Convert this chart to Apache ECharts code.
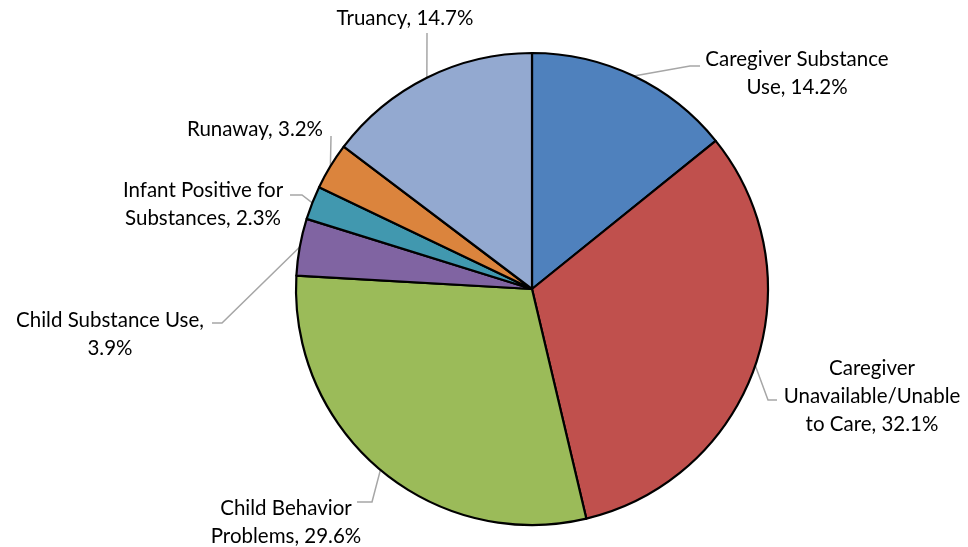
<!DOCTYPE html>
<html>
<head>
<meta charset="utf-8">
<script src="https://cdn.jsdelivr.net/npm/echarts@6/dist/echarts.min.js"></script>
<style>
html,body{margin:0;padding:0;background:#fff;}
#c{width:968px;height:547px;}
</style>
</head>
<body>
<div id="c"></div>
<script>
const categories = [
  "Caregiver Substance Use",
  "Caregiver Unavailable/Unable to Care",
  "Child Behavior Problems",
  "Child Substance Use",
  "Infant Positive for Substances",
  "Runaway",
  "Truancy"
];
const values = [14.2, 32.1, 29.6, 3.9, 2.3, 3.2, 14.7];
const labelTexts = [
  "Caregiver Substance\nUse, 14.2%",
  "Caregiver\nUnavailable/Unable\nto Care, 32.1%",
  "Child Behavior\nProblems, 29.6%",
  "Child Substance Use,\n3.9%",
  "Infant Positive for\nSubstances, 2.3%",
  "Runaway, 3.2%",
  "Truancy, 14.7%"
];
const colors = ["#4F81BD", "#C0504D", "#9BBB59", "#8064A2", "#4198AF", "#DB843D", "#93A9D0"];

// label anchor (centre of text block) and leader line bend/end points
const labelPos = [
  [797, 73], [872, 396], [286, 522], [110, 334], [203, 204], [255, 129], [405, 18]
];
const leaderBend = [
  [[690, 66], [700, 66]],
  [[768, 400], [777, 400]],
  [[372, 502], [357, 502]],
  [[222, 323], [212, 323]],
  [[302, 195], [290, 195]],
  [[331, 137], [331, 136]],
  [[427, 34], [427, 33]]
];

const chart = echarts.init(document.getElementById('c'), null, {renderer: 'canvas'});
chart.setOption({
  animation: false,
  backgroundColor: '#fff',
  series: [{
    type: 'pie',
    center: [532, 289],
    radius: 236,
    startAngle: 90,
    clockwise: true,
    data: categories.map((n, i) => ({name: n, value: values[i], itemStyle: {color: colors[i]}})),
    itemStyle: {borderColor: '#000', borderWidth: 2.2},
    label: {
      show: true,
      position: 'outside',
      formatter: p => labelTexts[p.dataIndex],
      fontFamily: 'Lato',
      fontSize: 20.5,
      lineHeight: 28,
      color: '#000',
      align: 'center',
      overflow: 'none',
      width: 300
    },
    labelLine: {show: true, lineStyle: {color: '#A6A6A6', width: 1.5}},
    labelLayout: function (params) {
      const i = params.dataIndex;
      const pts = params.labelLinePoints;
      const out = {
        x: labelPos[i][0],
        y: labelPos[i][1],
        align: 'center',
        verticalAlign: 'middle'
      };
      if (pts) {
        out.labelLinePoints = [pts[0], leaderBend[i][0], leaderBend[i][1]];
      }
      return out;
    },
    emphasis: {disabled: true}
  }]
});
</script>
</body>
</html>
